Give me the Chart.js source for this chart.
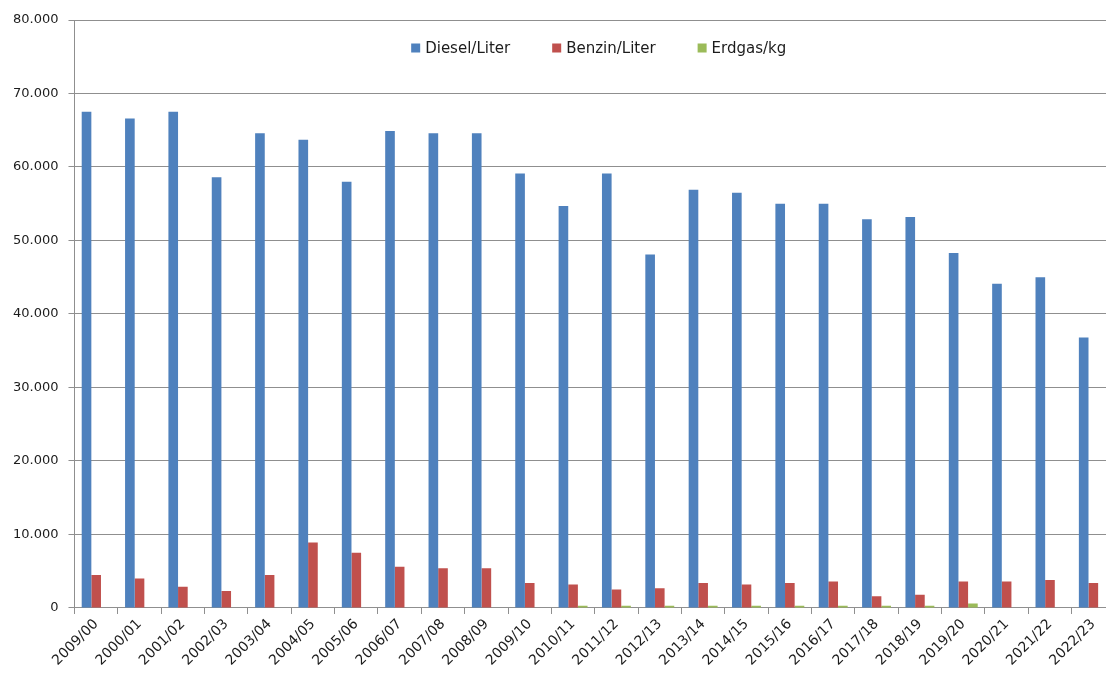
<!DOCTYPE html>
<html lang="de">
<head>
<meta charset="utf-8">
<title>Kraftstoffverbrauch</title>
<script src="https://cdn.jsdelivr.net/npm/chart.js@4/dist/chart.umd.min.js"></script>
<style>
  html, body { margin: 0; padding: 0; background: #fff; overflow: hidden; }
  #wrap { width: 1106px; height: 675px; overflow: hidden; }
  canvas { display: block; }
</style>
</head>
<body>
<div id="wrap"><canvas id="chart" width="1120" height="675"></canvas></div>
<script>
// Wirtschaftsjahre
const categories = [
  '2009/00', '2000/01', '2001/02', '2002/03', '2003/04', '2004/05',
  '2005/06', '2006/07', '2007/08', '2008/09', '2009/10', '2010/11',
  '2011/12', '2012/13', '2013/14', '2014/15', '2015/16', '2016/17',
  '2017/18', '2018/19', '2019/20', '2020/21', '2021/22', '2022/23'
];

const seriesNames = ['Diesel/Liter', 'Benzin/Liter', 'Erdgas/kg'];

const diesel = [
  67500, 66600, 67500, 58600, 64600, 63700, 58000, 64900, 64600, 64600,
  59100, 54700, 59100, 48100, 56900, 56500, 55000, 55000, 52900, 53200,
  48300, 44100, 45000, 36800
];

const benzin = [
  4500, 4000, 2900, 2300, 4500, 8900, 7500, 5600, 5400, 5400,
  3400, 3200, 2500, 2700, 3400, 3200, 3400, 3600, 1600, 1800,
  3600, 3600, 3800, 3400
];

const erdgas = [
  0, 0, 0, 0, 0, 0, 0, 0, 0, 0,
  0, 300, 300, 300, 300, 300, 300, 300, 300, 300,
  600, 0, 0, 0
];

const yTickValues = [0, 10000, 20000, 30000, 40000, 50000, 60000, 70000, 80000];

const colors = ['#4F81BD', '#C0504D', '#9BBB59'];
const gridColor = '#8f8f8f';
const textColor = '#1c1c1c';

// German number format: 80000 -> "80.000"
function formatDe(v) {
  if (v === 0) return '0';
  const s = String(Math.round(v));
  return s.replace(/\B(?=(\d{3})+(?!\d))/g, '.');
}

// Legend drawn inside the plot area, centred near its top edge
const innerLegend = {
  id: 'innerLegend',
  afterDraw(chart) {
    const { ctx, chartArea } = chart;
    const font = '15px "DejaVu Sans"';
    const box = 9, boxGap = 5, itemGap = 42;
    ctx.save();
    ctx.font = font;
    const items = chart.data.datasets.map(ds => ({
      text: ds.label, color: ds.backgroundColor,
      w: box + boxGap + ctx.measureText(ds.label).width
    }));
    const total = items.reduce((a, it) => a + it.w, 0) + itemGap * (items.length - 1);
    let x = (chartArea.left + chartArea.right) / 2 - total / 2 + 4;
    const y = chartArea.top + 28;
    ctx.textBaseline = 'middle';
    ctx.textAlign = 'left';
    items.forEach(it => {
      ctx.fillStyle = it.color;
      ctx.fillRect(x, y - box / 2, box, box);
      ctx.fillStyle = textColor;
      ctx.fillText(it.text, x + box + boxGap, y + 1);
      x += it.w + itemGap;
    });
    ctx.restore();
  }
};

new Chart(document.getElementById('chart'), {
  type: 'bar',
  data: {
    labels: categories,
    datasets: [
      { label: seriesNames[0], data: diesel, backgroundColor: colors[0] },
      { label: seriesNames[1], data: benzin, backgroundColor: colors[1] },
      { label: seriesNames[2], data: erdgas, backgroundColor: colors[2] }
    ]
  },
  options: {
    responsive: false,
    animation: false,
    devicePixelRatio: 1,
    layout: { padding: { left: 3, top: 20, right: 5, bottom: 4 } },
    datasets: {
      bar: { categoryPercentage: 0.667, barPercentage: 1.0, borderWidth: 0 }
    },
    plugins: {
      legend: { display: false },
      tooltip: { enabled: false }
    },
    scales: {
      x: {
        offset: true,
        grid: {
          offset: true,
          drawOnChartArea: false,
          drawTicks: true,
          tickLength: 6,
          color: gridColor,
          lineWidth: 1
        },
        border: { display: true, color: gridColor, width: 1 },
        ticks: {
          color: textColor,
          font: { family: 'DejaVu Sans', size: 14 },
          minRotation: 45,
          maxRotation: 45,
          autoSkip: false,
          padding: 2
        }
      },
      y: {
        min: 0,
        max: 80000,
        afterBuildTicks(scale) {
          scale.ticks = yTickValues.map(v => ({ value: v }));
        },
        grid: {
          color: gridColor,
          lineWidth: 1,
          drawTicks: true,
          tickLength: 6
        },
        border: { display: true, color: gridColor, width: 1 },
        ticks: {
          color: textColor,
          font: { family: 'DejaVu Sans', size: 13 },
          padding: 10,
          callback: (v) => formatDe(v)
        }
      }
    }
  },
  plugins: [innerLegend]
});
</script>
</body>
</html>
